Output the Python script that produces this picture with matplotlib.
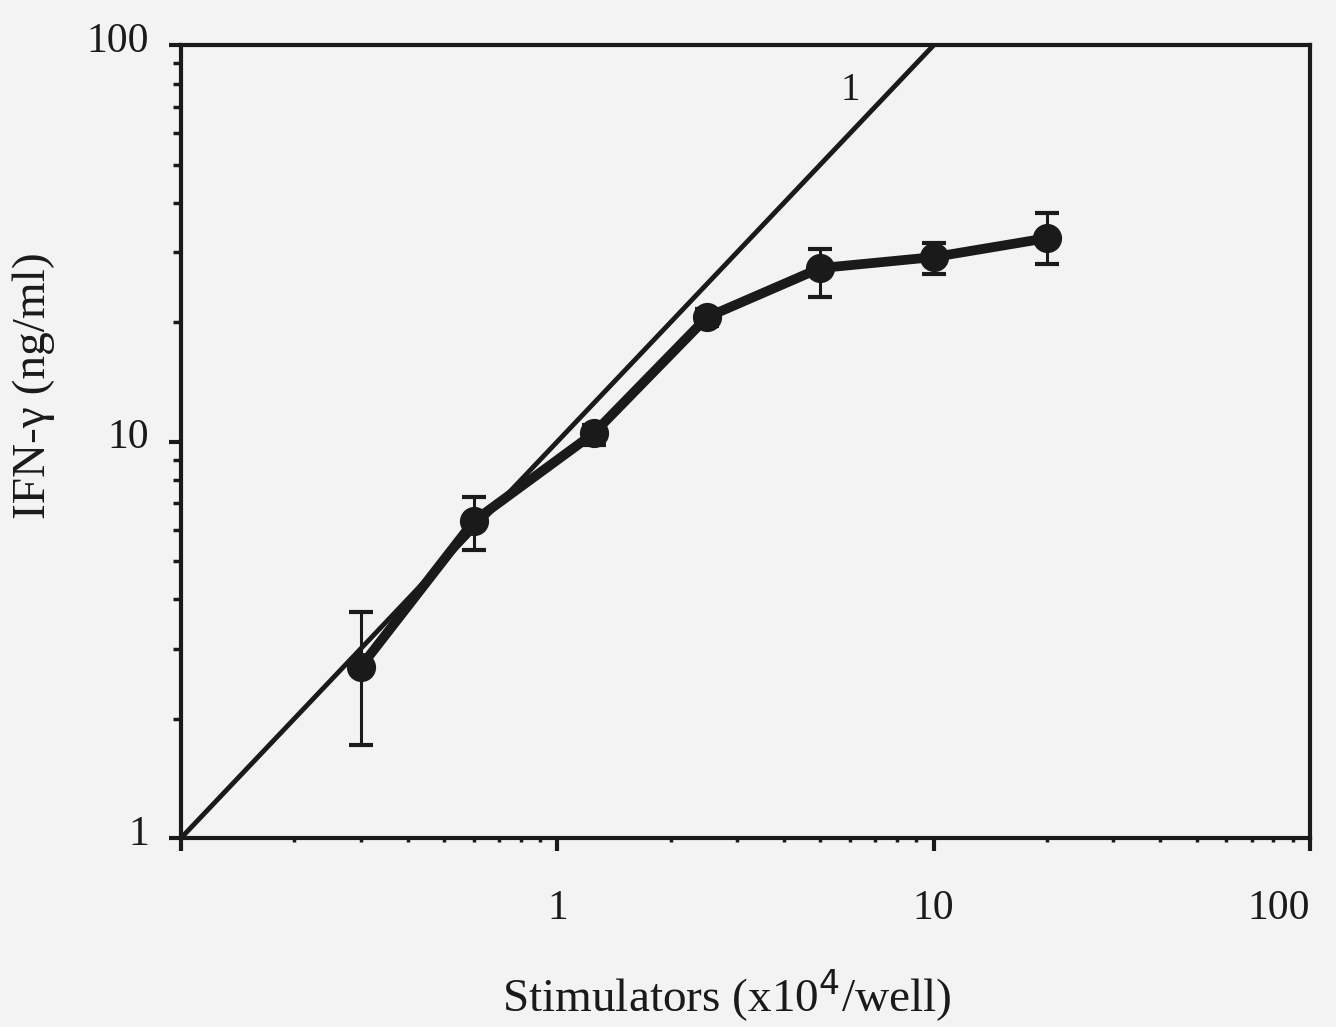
import matplotlib
matplotlib.use("Agg")
import matplotlib.pyplot as plt
import matplotlib.transforms as mtransforms
import numpy as np
from matplotlib.ticker import LogLocator, NullFormatter, FixedLocator, FixedFormatter

# Data
stimulators = [0.3, 0.6, 1.25, 2.5, 5.0, 10.0, 20.0]
ifn_gamma = [2.7, 6.3, 10.5, 20.6, 27.4, 29.2, 32.6]
err_upper = [3.72, 7.24, 11.0, 21.6, 30.6, 31.7, 37.7]
err_lower = [1.72, 5.33, 9.8, 19.6, 23.1, 26.4, 28.0]
ref_x = [0.1, 10.0]
ref_y = [1.0, 100.0]
x_ticks = [1, 10, 100]
x_ticklabels = ["1", "10", "100"]
y_ticks = [1, 10, 100]
y_ticklabels = ["1", "10", "100"]

plt.rcParams['font.family'] = ['Liberation Serif', 'DejaVu Serif']

fig = plt.figure(figsize=(13.36, 10.27), dpi=100, facecolor='#f3f3f3')
ax = fig.add_axes([0.1355, 0.184, 0.845, 0.772])
ax.set_facecolor('#f3f3f3')

ax.set_xscale('log')
ax.set_yscale('log')
ax.set_xlim(0.1, 100)
ax.set_ylim(1, 100)

# reference line of slope 1
ax.plot(ref_x, ref_y, color='#1a1a1a', lw=3.5, solid_capstyle='butt', zorder=2)
ax.text(6.0, 77, "1", fontsize=28, ha='center', va='center', color='#1a1a1a')

y = np.array(ifn_gamma)
yerr = [y - np.array(err_lower), np.array(err_upper) - y]
ax.errorbar(stimulators, ifn_gamma, yerr=yerr, fmt='o-', color='#1a1a1a',
            lw=7, ms=20, elinewidth=2.2, capsize=8.3, capthick=3, zorder=3)

for s in ax.spines.values():
    s.set_linewidth(3)
    s.set_color('#1a1a1a')

ax.xaxis.set_major_locator(FixedLocator([0.1] + x_ticks))
ax.xaxis.set_major_formatter(FixedFormatter([""] + x_ticklabels))
ax.xaxis.set_minor_locator(LogLocator(base=10, subs=np.arange(2, 10)))
ax.xaxis.set_minor_formatter(NullFormatter())
ax.yaxis.set_major_locator(FixedLocator(y_ticks))
ax.yaxis.set_major_formatter(FixedFormatter(y_ticklabels))
ax.yaxis.set_minor_locator(LogLocator(base=10, subs=np.arange(2, 10)))
ax.yaxis.set_minor_formatter(NullFormatter())

ax.tick_params(axis='both', which='major', direction='out', length=9, width=3,
               labelsize=30, colors='#1a1a1a', top=False, right=False)
ax.tick_params(axis='x', which='major', pad=28)
ax.tick_params(axis='y', which='major', pad=14)
ax.tick_params(axis='y', which='minor', direction='out', length=6, width=2.5,
               colors='#1a1a1a', right=False)
ax.tick_params(axis='x', which='minor', direction='out', length=3, width=2.5,
               colors='#1a1a1a', top=False)

fig.canvas.draw()
# shift y tick labels slightly upward
up = mtransforms.ScaledTranslation(0, 8 / 100, fig.dpi_scale_trans)
for lab in ax.get_yticklabels():
    lab.set_transform(lab.get_transform() + up)
# right-align the last x tick label at the axis end
xl = ax.get_xticklabels()
xl[-1].set_horizontalalignment('right')

ax.set_xlabel("Stimulators (x10$^{4}$/well)", fontsize=34, color='#1a1a1a')
ax.xaxis.set_label_coords(0.4836, -0.163)
ax.set_ylabel("IFN-γ (ng/ml)", fontsize=34, color='#1a1a1a')
ax.yaxis.set_label_coords(-0.112, 0.571)

fig.savefig("out.png", dpi=100, facecolor=fig.get_facecolor())
